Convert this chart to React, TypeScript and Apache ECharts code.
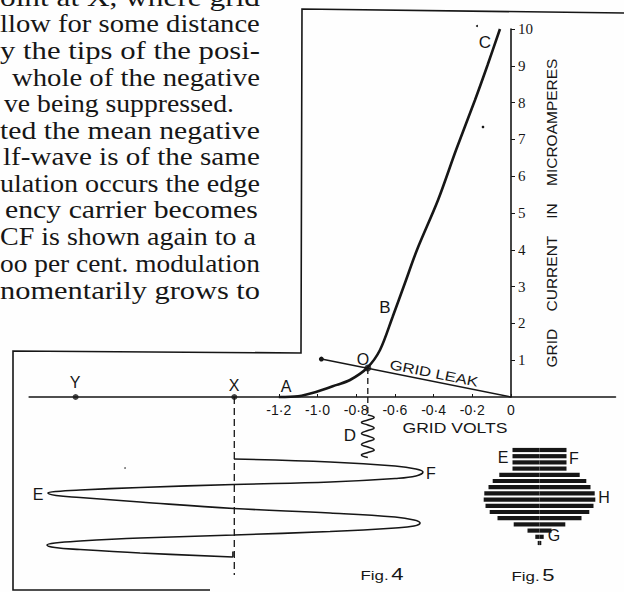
import React, { useEffect, useRef } from 'react';
import * as echarts from 'echarts';

// ---------- Fig. 4 : grid current characteristic ----------
const curveVolts = [-1.2, -1.1, -1.008, -0.9, -0.832, -0.744, -0.677, -0.612, -0.548, -0.486, -0.377, -0.284, -0.186, -0.121, -0.057];
const curveMicroamps = [0, 0.02, 0.136, 0.33, 0.462, 0.788, 1.277, 2.174, 3.098, 3.995, 5.353, 6.712, 8.071, 9.022, 10.0];

const leakVolts = [-0.98, 0];
const leakMicroamps = [1.03, 0];

const pointO: [number, number] = [-0.74, 0.79];
const pointXVolts = -1.43;
const pointYVolts = -2.25;

const xTickValues = [-1.2, -1.0, -0.8, -0.6, -0.4, -0.2, 0];
const xTickLabels = ['-1·2', '-1·0', '-0·8', '-0·6', '-0·4', '-0·2', '0'];

// below the axis: time runs downward, in carrier cycles
const carrierVolts = [-1.432, -0.935, -0.599, -0.491, -0.455, -0.491, -0.599, -0.935, -1.432, -1.917, -2.227, -2.351, -2.393, -2.351, -2.227, -1.917, -1.432, -0.935, -0.599, -0.501, -0.47, -0.501, -0.599, -0.935, -1.432, -1.917, -2.227, -2.357, -2.398, -2.357, -2.227, -1.917, -1.437];
const carrierTime = [1.24, 1.3, 1.38, 1.44, 1.5, 1.58, 1.63, 1.7, 1.75, 1.81, 1.86, 1.89, 1.92, 1.97, 2.01, 2.1, 2.23, 2.32, 2.4, 2.46, 2.52, 2.58, 2.62, 2.69, 2.76, 2.82, 2.88, 2.92, 2.96, 3.01, 3.05, 3.12, 3.2];
const carrierEndTickTime = [3.2, 3.09];

const signalVolts = [-0.74, -0.707, -0.74, -0.773, -0.74, -0.707, -0.74, -0.773, -0.74, -0.707, -0.74, -0.773, -0.74, -0.707, -0.74, -0.773, -0.74];
const signalTime = [0.36, 0.41, 0.46, 0.51, 0.56, 0.62, 0.67, 0.73, 0.78, 0.84, 0.89, 0.95, 1.0, 1.06, 1.11, 1.16, 1.21];

const dashedOTime = [0, 0.36];
const dashedXTime = [0, 3.56];

// ---------- Fig. 5 : modulated envelope (relative half-width per stripe) ----------
const fig5HalfWidth = [0.45, 0.45, 0.45, 0.45, 0.67, 0.78, 0.85, 0.92, 0.93, 0.9, 0.83, 0.7, 0.43, 0.2, 0.07, 0.03];
const fig5Rows = fig5HalfWidth.map((_, i) => 'row' + (i + 1));

// ---------- article text column ----------
const textLines = [
  'oint at X, where grid',
  'llow for some distance',
  'y the tips of the posi-',
  'whole of the negative',
  've being suppressed.',
  'ted the mean negative',
  'lf-wave is of the same',
  'ulation occurs the edge',
  'ency carrier becomes',
  'CF is shown again to a',
  'oo per cent. modulation',
  'nomentarily grows to',
];
const textLeft = [0, 0, 0, 12, 4, 0, 3, 0, 5, 0, 0, 0];
const textRight = [260, 260, 260, 260, 234, 260, 260, 260, 258, 256, 260, 260];

const INK = '#161616';
const SANS = 'Liberation Sans';
const SERIF = 'Liberation Serif';

// layout
const ZERO_X = 511;
const VOLT_PX = 193.5;
const X_MIN = -2.49;
const X_MAX = 0.54;
const GRID_LEFT = ZERO_X + X_MIN * VOLT_PX;
const GRID_WIDTH = (X_MAX - X_MIN) * VOLT_PX;
const Y_AXIS_OFFSET = -(GRID_LEFT + GRID_WIDTH - ZERO_X);

const zip = (a: number[], b: number[]) => a.map((v, i) => [v, b[i]]);

function measure(text: string, font: string) {
  const c = document.createElement('canvas').getContext('2d');
  if (!c) return text.length * 10;
  c.font = font;
  return c.measureText(text).width;
}

function letter(text: string, x: number, y: number, size = 16) {
  return {
    type: 'text', x, y, silent: true,
    style: { text, fontSize: size, fontFamily: SANS, fill: INK, align: 'center', verticalAlign: 'middle', textAlign: 'center', textVerticalAlign: 'middle' },
  };
}

function figLabel(num: string, x: number, y: number) {
  return {
    type: 'text', x, y, scaleX: 1.3, silent: true,
    style: {
      text: `{a|Fig.}{b|${num}}`, fill: INK, align: 'center', verticalAlign: 'middle', textAlign: 'center', textVerticalAlign: 'middle',
      rich: { a: { fontSize: 13, fontFamily: SANS, fill: INK, padding: [2, 2, 0, 0] }, b: { fontSize: 17, fontFamily: SANS, fill: INK } },
    },
  };
}

function buildOption() {
  const paraFont = `25px "${SERIF}"`;
  const para = textLines.map((t, i) => {
    const w = measure(t, paraFont);
    const baseline = 6 + i * 26.6;
    return {
      type: 'text', x: textLeft[i], y: baseline - 8.5, scaleX: (textRight[i] - textLeft[i]) / w, silent: true,
      style: { text: t, fontSize: 25, fontFamily: SERIF, fill: INK, align: 'left', verticalAlign: 'middle', textAlign: 'left', textVerticalAlign: 'middle' },
    };
  });

  const leakFontW = measure('GRID LEAK', `13.5px "${SANS}"`);
  const voltsFontW = measure('GRID VOLTS', `14px "${SANS}"`);

  const graphic: any[] = [
    {
      type: 'polyline', silent: true,
      shape: { points: [[624, 13], [302, 9], [301, 353], [13, 351], [13, 590], [210, 590]] },
      style: { stroke: INK, lineWidth: 1.6, fill: null },
    },
    ...para,
    letter('Y', 75, 382),
    letter('X', 234, 385),
    letter('A', 286, 386),
    letter('O', 363, 359),
    letter('B', 385, 307, 17),
    letter('C', 485, 42, 17),
    letter('D', 350, 435, 17),
    letter('E', 38, 494, 16),
    letter('F', 431, 473),
    letter('E', 503, 457),
    letter('F', 574, 458),
    letter('H', 604, 497),
    letter('G', 554, 535),
    {
      type: 'text', x: 434, y: 373, rotation: -0.198, scaleX: 90 / leakFontW, silent: true,
      style: { text: 'GRID LEAK', fontSize: 13.5, fontFamily: SANS, fill: INK, align: 'center', verticalAlign: 'middle', textAlign: 'center', textVerticalAlign: 'middle' },
    },
    {
      type: 'text', x: 455, y: 428, scaleX: 105 / voltsFontW, silent: true,
      style: { text: 'GRID VOLTS', fontSize: 14, fontFamily: SANS, fill: INK, align: 'center', verticalAlign: 'middle', textAlign: 'center', textVerticalAlign: 'middle' },
    },
    figLabel('4', 382, 574),
    figLabel('5', 533, 575),
    { type: 'circle', silent: true, shape: { cx: 477, cy: 26, r: 1 }, style: { fill: INK } },
    { type: 'circle', silent: true, shape: { cx: 483, cy: 127, r: 1.3 }, style: { fill: INK } },
    { type: 'circle', silent: true, shape: { cx: 125, cy: 468, r: 0.8 }, style: { fill: '#555' } },
  ];

  const lineBase = { type: 'line', silent: true, clip: false, showSymbol: false, symbol: 'none' };
  const gridBase = { containLabel: false, outerBoundsMode: 'none' };

  return {
    animation: false,
    backgroundColor: '#fefefe',
    grid: [
      { ...gridBase, left: GRID_LEFT, width: GRID_WIDTH, top: 29, height: 368 },
      { ...gridBase, left: GRID_LEFT, width: GRID_WIDTH, top: 397, height: 195 },
      { ...gridBase, left: 479.5, width: 120, top: 446.9, height: 99.2 },
    ],
    xAxis: [
      {
        gridIndex: 0, type: 'value', min: X_MIN, max: X_MAX,
        axisLine: { show: true, onZero: true, lineStyle: { color: INK, width: 1.6 } },
        axisTick: { show: true, inside: true, length: 3, customValues: xTickValues, lineStyle: { color: INK, width: 1 } },
        axisLabel: {
          customValues: xTickValues, margin: 6, color: INK, fontFamily: SANS, fontSize: 14,
          formatter: (v: number) => {
            const i = xTickValues.findIndex((t) => Math.abs(t - v) < 1e-6);
            return i >= 0 ? xTickLabels[i] : '';
          },
        },
        splitLine: { show: false },
      },
      { gridIndex: 1, type: 'value', min: X_MIN, max: X_MAX, show: false },
      { gridIndex: 2, type: 'value', min: -1, max: 1, show: false },
    ],
    yAxis: [
      {
        gridIndex: 0, type: 'value', min: 0, max: 10, interval: 1, position: 'right', offset: Y_AXIS_OFFSET,
        axisLine: { show: true, onZero: false, lineStyle: { color: INK, width: 1.6 } },
        axisTick: { show: true, inside: false, length: 4, lineStyle: { color: INK, width: 1 } },
        axisLabel: { showMinLabel: false, margin: 7, color: INK, fontFamily: SERIF, fontSize: 15 },
        splitLine: { show: false },
        name: 'GRID    CURRENT    IN    MICROAMPERES', nameLocation: 'middle', nameRotate: 90, nameGap: 28,
        nameTextStyle: { color: INK, fontFamily: SANS, fontSize: 15.5 },
      },
      { gridIndex: 1, type: 'value', min: 0, max: 3.9, inverse: true, show: false },
      { gridIndex: 2, type: 'category', data: fig5Rows, inverse: true, show: false },
    ],
    graphic,
    series: [
      { ...lineBase, name: 'grid current', xAxisIndex: 0, yAxisIndex: 0, data: zip(curveVolts, curveMicroamps), smooth: 0.3, lineStyle: { color: INK, width: 2.6 } },
      {
        type: 'line', name: 'grid leak', silent: true, clip: false, xAxisIndex: 0, yAxisIndex: 0, data: zip(leakVolts, leakMicroamps),
        symbol: 'circle', showSymbol: true, symbolSize: (_v: any, p: any) => (p.dataIndex === 0 ? 5 : 0),
        itemStyle: { color: INK }, lineStyle: { color: INK, width: 1.5 },
      },
      { type: 'scatter', silent: true, xAxisIndex: 0, yAxisIndex: 0, data: [pointO], symbolSize: 7, itemStyle: { color: INK } },
      { type: 'scatter', silent: true, xAxisIndex: 0, yAxisIndex: 0, data: [[pointXVolts, 0], [pointYVolts, 0]], symbolSize: 6, itemStyle: { color: INK } },
      { ...lineBase, xAxisIndex: 0, yAxisIndex: 0, data: [pointO, [pointO[0], 0]], lineStyle: { color: INK, width: 1.3, type: [6, 4] } },
      { ...lineBase, xAxisIndex: 1, yAxisIndex: 1, data: dashedOTime.map((t) => [pointO[0], t]), lineStyle: { color: INK, width: 1.3, type: [6, 4] } },
      { ...lineBase, xAxisIndex: 1, yAxisIndex: 1, data: dashedXTime.map((t) => [pointXVolts, t]), lineStyle: { color: INK, width: 1.3, type: [7, 4] } },
      { ...lineBase, xAxisIndex: 1, yAxisIndex: 1, data: zip(signalVolts, signalTime), smooth: 0.5, lineStyle: { color: INK, width: 1.5 } },
      { ...lineBase, xAxisIndex: 1, yAxisIndex: 1, data: zip(carrierVolts, carrierTime), smooth: 0.4, lineStyle: { color: INK, width: 1.6 } },
      { ...lineBase, xAxisIndex: 1, yAxisIndex: 1, data: carrierEndTickTime.map((t) => [carrierVolts[carrierVolts.length - 1], t]), lineStyle: { color: INK, width: 1.6 } },
      { type: 'bar', silent: true, xAxisIndex: 2, yAxisIndex: 2, stack: 'fig5', data: fig5HalfWidth, barWidth: 4.2, itemStyle: { color: INK } },
      { type: 'bar', silent: true, xAxisIndex: 2, yAxisIndex: 2, stack: 'fig5', data: fig5HalfWidth.map((w) => -w), barWidth: 4.2, itemStyle: { color: INK } },
    ],
  };
}

export default function App() {
  const ref = useRef<HTMLDivElement>(null);
  useEffect(() => {
    const el = ref.current;
    if (!el) return;
    const chart = echarts.init(el, null, { renderer: 'svg' });
    chart.setOption(buildOption() as any);
    return () => chart.dispose();
  }, []);
  return <div ref={ref} style={{ position: 'fixed', left: 0, top: 0, width: 624, height: 592 }} />;
}
